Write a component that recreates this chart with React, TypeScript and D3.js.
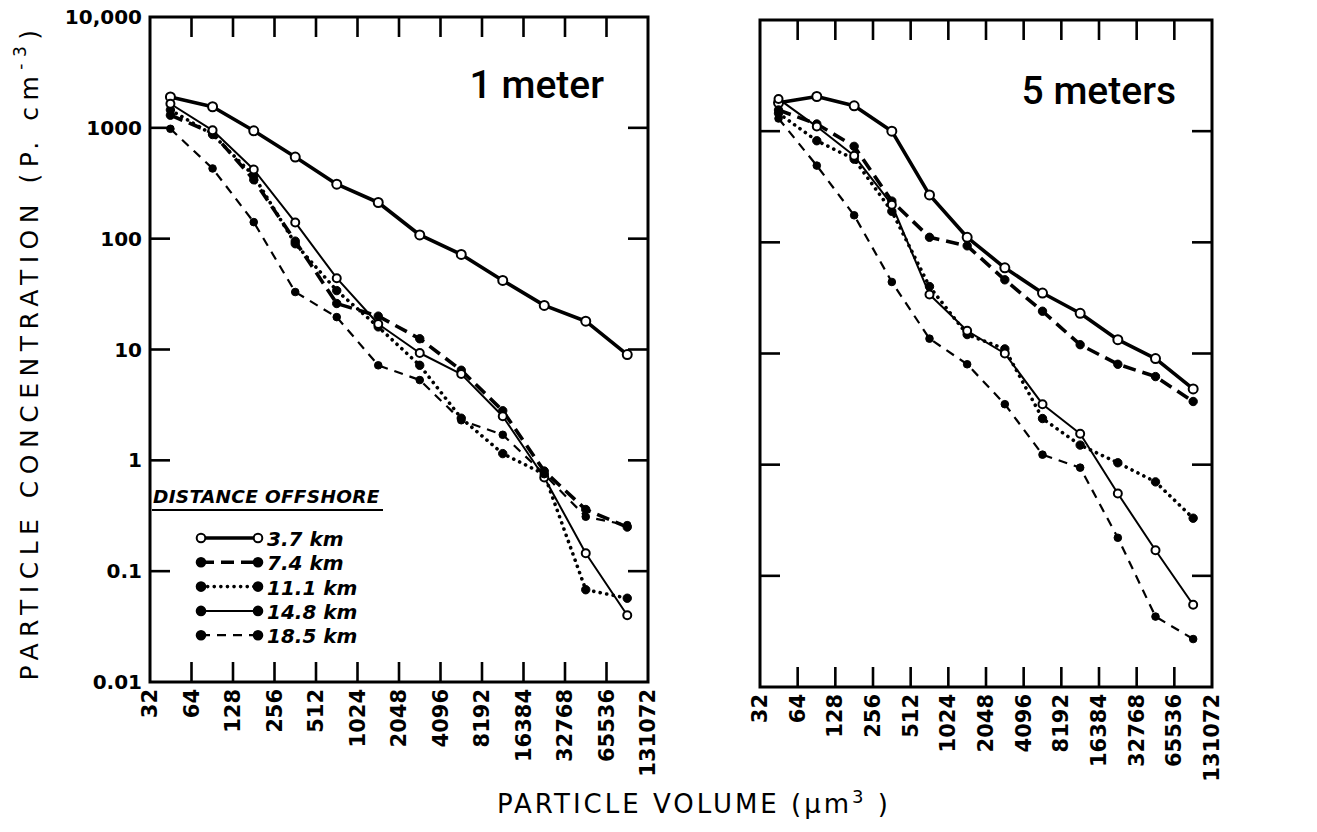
import { useEffect, useRef } from 'react'
import * as d3 from 'd3'

// particle volume bins (um^3) and the bin centres where points sit
const volumeTicks = [32, 64, 128, 256, 512, 1024, 2048, 4096, 8192, 16384, 32768, 65536, 131072]
const binCenters = [45, 91, 181, 362, 724, 1448, 2896, 5793, 11585, 23170, 46341, 92682]

const concTicks = [0.01, 0.1, 1, 10, 100, 1000, 10000]
const concTickLabels = ['0.01', '0.1', '1', '10', '100', '1000', '10,000']

const distances = ['3.7 km', '7.4 km', '11.1 km', '14.8 km', '18.5 km']

// 1 meter depth
const oneMeter37 = [1900, 1550, 940, 545, 310, 212, 108, 72, 42, 25, 18, 9]
const oneMeter74 = [1300, 900, 340, 95, 26, 20, 12.5, 6.5, 2.8, 0.8, 0.36, 0.25]
const oneMeter111 = [1450, 870, 370, 90, 34, 16, 7.2, 2.4, 1.15, 0.75, 0.068, 0.057]
const oneMeter148 = [1650, 950, 420, 140, 44, 17, 9.3, 6, 2.5, 0.7, 0.145, 0.04]
const oneMeter185 = [980, 430, 141, 33, 19.6, 7.2, 5.3, 2.3, 1.7, 0.75, 0.31, 0.26]

// 5 meters depth
const fiveMeter37 = [1800, 2050, 1690, 1000, 267, 111, 59, 35, 23, 13.3, 9, 4.8]
const fiveMeter74 = [1550, 1160, 730, 235, 111, 93, 46, 24, 12, 8, 6.2, 3.7]
const fiveMeter111 = [1450, 820, 560, 190, 40, 14.8, 11, 2.6, 1.5, 1.04, 0.7, 0.33]
const fiveMeter148 = [1950, 1100, 600, 218, 34, 16, 10, 3.5, 1.9, 0.55, 0.17, 0.055]
const fiveMeter185 = [1300, 490, 175, 44, 13.6, 8, 3.5, 1.23, 0.94, 0.22, 0.043, 0.027]

const styles = [
  { width: 3.6, dash: '', cap: 'butt', open: true, r: 4.5, legendOpen: true },
  { width: 3.6, dash: '13 7', cap: 'butt', open: false, r: 4.2, legendOpen: false },
  { width: 3.6, dash: '0.1 6.5', cap: 'round', open: false, r: 4.2, legendOpen: false },
  { width: 2, dash: '', cap: 'butt', open: true, r: 4, legendOpen: false },
  { width: 2.2, dash: '9 7', cap: 'butt', open: false, r: 3.8, legendOpen: false }
]

const W = 1317
const H = 832
const tickFont = '"DejaVu Sans", sans-serif'

export default function App() {
  const svgRef = useRef<SVGSVGElement>(null)

  useEffect(() => {
    if (!svgRef.current) return
    const svg = d3.select(svgRef.current)
    svg.selectAll('*').remove()

    const panels = [
      { title: '1 meter', x0: 150, x1: 648, y0: 17, y1: 682, titleX: 604, titleY: 98, labels: true,
        series: [oneMeter37, oneMeter74, oneMeter111, oneMeter148, oneMeter185] },
      { title: '5 meters', x0: 760, x1: 1212, y0: 20, y1: 687, titleX: 1176, titleY: 104, labels: false,
        series: [fiveMeter37, fiveMeter74, fiveMeter111, fiveMeter148, fiveMeter185] }
    ]

    panels.forEach(p => {
      const x = d3.scaleLog().base(2).domain([32, 131072]).range([p.x0, p.x1])
      const y = d3.scaleLog().domain([0.01, 10000]).range([p.y1, p.y0])
      const g = svg.append('g')

      // frame
      g.append('rect')
        .attr('x', p.x0).attr('y', p.y0)
        .attr('width', p.x1 - p.x0).attr('height', p.y1 - p.y0)
        .attr('fill', 'none').attr('stroke', '#000').attr('stroke-width', 3)

      // inner ticks
      const tl = 20
      const inner = volumeTicks.slice(1, -1)
      inner.forEach(v => {
        g.append('line').attr('x1', x(v)).attr('x2', x(v)).attr('y1', p.y1).attr('y2', p.y1 - tl)
          .attr('stroke', '#000').attr('stroke-width', 2.6)
        g.append('line').attr('x1', x(v)).attr('x2', x(v)).attr('y1', p.y0).attr('y2', p.y0 + tl)
          .attr('stroke', '#000').attr('stroke-width', 2.6)
      })
      concTicks.slice(1, -1).forEach(v => {
        g.append('line').attr('x1', p.x0).attr('x2', p.x0 + tl).attr('y1', y(v)).attr('y2', y(v))
          .attr('stroke', '#000').attr('stroke-width', 2.6)
        g.append('line').attr('x1', p.x1).attr('x2', p.x1 - tl).attr('y1', y(v)).attr('y2', y(v))
          .attr('stroke', '#000').attr('stroke-width', 2.6)
      })

      // x tick labels, rotated
      volumeTicks.forEach(v => {
        g.append('text')
          .attr('transform', `translate(${x(v)},${p.y1 + 7}) rotate(-90)`)
          .attr('text-anchor', 'end')
          .attr('dominant-baseline', 'central')
          .style('font-family', tickFont)
          .style('font-weight', 'bold')
          .style('font-size', '21px')
          .text(String(v))
      })

      // y tick labels on left panel only
      if (p.labels) {
        concTicks.forEach((v, i) => {
          g.append('text')
            .attr('x', p.x0 - 8).attr('y', y(v))
            .attr('text-anchor', 'end')
            .attr('dominant-baseline', 'central')
            .style('font-family', tickFont)
            .style('font-weight', 'bold')
            .style('font-size', '20px')
            .text(concTickLabels[i])
        })
      }

      // panel title
      g.append('text')
        .attr('x', p.titleX).attr('y', p.titleY)
        .attr('text-anchor', 'end')
        .style('font-family', 'Roboto, "Liberation Sans", sans-serif')
        .style('font-weight', 500)
        .style('font-size', '39px')
        .text(p.title)

      // series
      const line = d3.line<number>()
        .x((_, i) => x(binCenters[i]))
        .y(d => y(d))

      p.series.forEach((vals, si) => {
        const s = styles[si]
        g.append('path')
          .datum(vals)
          .attr('d', line)
          .attr('fill', 'none')
          .attr('stroke', '#000')
          .attr('stroke-width', s.width)
          .attr('stroke-dasharray', s.dash || null)
          .attr('stroke-linecap', s.cap)
          .attr('stroke-linejoin', 'round')
        g.selectAll(null)
          .data(vals)
          .enter()
          .append('circle')
          .attr('cx', (_, i) => x(binCenters[i]))
          .attr('cy', d => y(d))
          .attr('r', s.r)
          .attr('fill', s.open ? '#fff' : '#000')
          .attr('stroke', '#000')
          .attr('stroke-width', s.open ? 2 : 1)
      })
    })

    // legend in left panel
    const lg = svg.append('g')
    lg.append('text')
      .attr('x', 153).attr('y', 503)
      .style('font-family', tickFont)
      .style('font-style', 'italic')
      .style('font-weight', 'bold')
      .style('font-size', '18.5px')
      .style('letter-spacing', '0.3px')
      .text('DISTANCE OFFSHORE')
    lg.append('line')
      .attr('x1', 152).attr('x2', 383).attr('y1', 510).attr('y2', 510)
      .attr('stroke', '#000').attr('stroke-width', 2.2)

    distances.forEach((d, i) => {
      const s = styles[i]
      const ly = 538 + i * 24.3
      lg.append('line')
        .attr('x1', 201).attr('x2', 258).attr('y1', ly).attr('y2', ly)
        .attr('stroke', '#000')
        .attr('stroke-width', s.width)
        .attr('stroke-dasharray', s.dash || null)
        .attr('stroke-linecap', s.cap)
      ;[201, 258].forEach(cx => {
        lg.append('circle')
          .attr('cx', cx).attr('cy', ly).attr('r', 4.3)
          .attr('fill', s.legendOpen ? '#fff' : '#000')
          .attr('stroke', '#000').attr('stroke-width', 2)
      })
      lg.append('text')
        .attr('x', 267).attr('y', ly + 1)
        .attr('dominant-baseline', 'central')
        .style('font-family', tickFont)
        .style('font-style', 'italic')
        .style('font-weight', 'bold')
        .style('font-size', '20px')
        .text(d)
    })

    // axis titles
    const yt = svg.append('text')
      .attr('transform', 'translate(29,352) rotate(-90)')
      .attr('text-anchor', 'middle')
      .attr('dominant-baseline', 'central')
      .style('font-family', tickFont)
      .style('font-size', '25px')
      .style('letter-spacing', '6.5px')
    yt.append('tspan').text('PARTICLE CONCENTRATION  (P. cm')
    yt.append('tspan').attr('dy', -9).style('font-size', '17px').text('-3')
    yt.append('tspan').attr('dy', 9).text(')')

    const xt = svg.append('text')
      .attr('x', 694).attr('y', 813)
      .attr('text-anchor', 'middle')
      .style('font-family', tickFont)
      .style('font-size', '26px')
      .style('letter-spacing', '3px')
    xt.append('tspan').text('PARTICLE VOLUME (µm')
    xt.append('tspan').attr('dy', -10).style('font-size', '18px').text('3')
    xt.append('tspan').attr('dy', 10).text(' )')
  }, [])

  return (
    <svg
      ref={svgRef}
      width={W}
      height={H}
      style={{ position: 'absolute', left: 0, top: 0, background: '#fff' }}
    />
  )
}
